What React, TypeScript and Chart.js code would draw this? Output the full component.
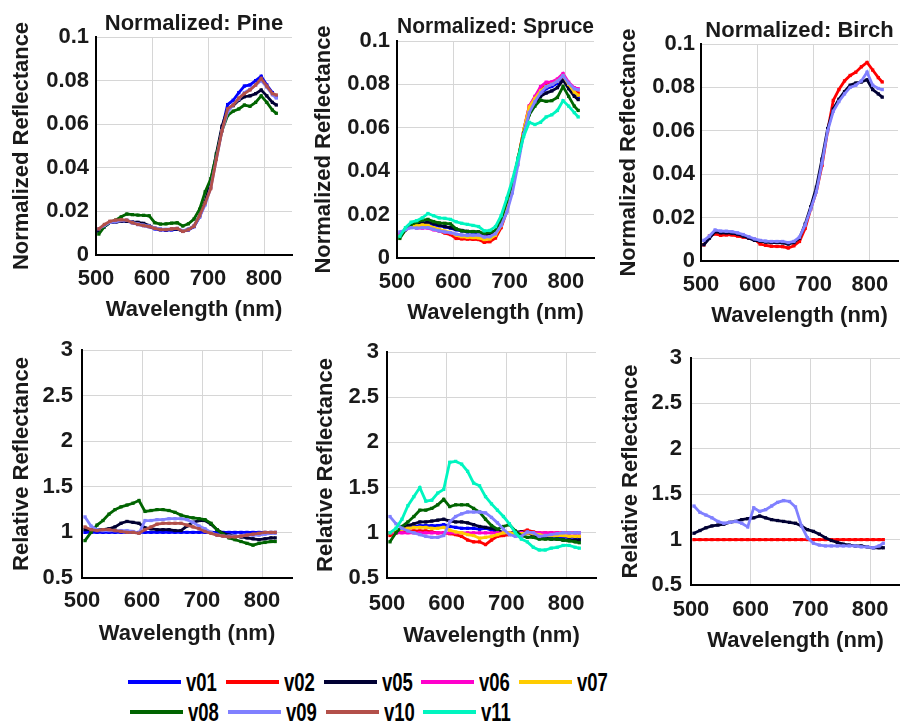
import React, { useEffect, useRef } from "react";
import { Chart, registerables } from "chart.js";
Chart.register(...registerables);

// ---------------- DATA ----------------
const wavelengths = [505, 515, 525, 535, 545, 555, 565, 575, 585, 595, 605, 615, 625, 635, 645, 655, 665, 675, 685, 695, 705, 715, 725, 735, 745, 755, 765, 775, 785, 795, 805, 815, 822];

const xTicks = [500, 600, 700, 800];
const normTicks = [0, 0.02, 0.04, 0.06, 0.08, 0.1];
const relTicks = [0.5, 1, 1.5, 2, 2.5, 3];

// Pine – normalized
const pineNormV01 = [0.011, 0.013, 0.015, 0.0152, 0.0155, 0.0155, 0.0148, 0.014, 0.0135, 0.013, 0.012, 0.0115, 0.0113, 0.0115, 0.0118, 0.011, 0.0115, 0.013, 0.0175, 0.024, 0.033, 0.045, 0.058, 0.069, 0.071, 0.0745, 0.0775, 0.078, 0.08, 0.082, 0.078, 0.0745, 0.0725];
const pineNormV05 = [0.011, 0.013, 0.015, 0.015, 0.0155, 0.0155, 0.0152, 0.015, 0.0145, 0.0135, 0.0123, 0.0118, 0.0116, 0.0118, 0.012, 0.011, 0.0118, 0.0132, 0.018, 0.0245, 0.034, 0.0465, 0.059, 0.067, 0.0685, 0.071, 0.0726, 0.073, 0.074, 0.0757, 0.073, 0.07, 0.0688];
const pineNormV08 = [0.0096, 0.013, 0.015, 0.016, 0.0175, 0.0188, 0.0185, 0.0183, 0.0182, 0.018, 0.0148, 0.0142, 0.0143, 0.0146, 0.0148, 0.0133, 0.0143, 0.0165, 0.021, 0.029, 0.035, 0.046, 0.057, 0.064, 0.066, 0.067, 0.0688, 0.0682, 0.07, 0.073, 0.07, 0.0665, 0.065];
const pineNormV09 = [0.012, 0.0135, 0.015, 0.0152, 0.0158, 0.016, 0.015, 0.0143, 0.0137, 0.0133, 0.0125, 0.012, 0.0118, 0.012, 0.0122, 0.0112, 0.0118, 0.0133, 0.0175, 0.023, 0.031, 0.044, 0.057, 0.0655, 0.069, 0.0715, 0.0745, 0.076, 0.078, 0.08, 0.077, 0.0735, 0.072];
const pineNormV10 = [0.012, 0.014, 0.0155, 0.016, 0.0162, 0.016, 0.0148, 0.014, 0.0135, 0.013, 0.0122, 0.0116, 0.0116, 0.012, 0.0122, 0.0108, 0.0116, 0.0132, 0.018, 0.024, 0.0305, 0.044, 0.057, 0.067, 0.0688, 0.072, 0.074, 0.0757, 0.078, 0.081, 0.0775, 0.074, 0.0734];

// Pine – relative
const pineRelV01 = [1, 1, 1, 1, 1, 1, 1, 1, 1, 1, 1, 1, 1, 1, 1, 1, 1, 1, 1, 1, 1, 1, 1, 1, 1, 1, 1, 1, 1, 1, 1, 1, 1];
const pineRelV05 = [1.03, 1.03, 1.03, 1.03, 1.04, 1.06, 1.1, 1.12, 1.11, 1.1, 1.05, 1.04, 1.03, 1.03, 1.03, 1.02, 1.02, 1.07, 1.11, 1.13, 1.13, 1.09, 1.03, 0.99, 0.97, 0.96, 0.95, 0.94, 0.93, 0.92, 0.93, 0.94, 0.94];
const pineRelV08 = [0.91, 1.0, 1.08, 1.13, 1.2, 1.25, 1.28, 1.3, 1.32, 1.35, 1.23, 1.24, 1.25, 1.25, 1.24, 1.22, 1.19, 1.17, 1.16, 1.15, 1.14, 1.1, 1.03, 0.98, 0.94, 0.92, 0.9, 0.88, 0.86, 0.88, 0.89, 0.9, 0.9];
const pineRelV09 = [1.17, 1.07, 1.03, 1.02, 1.02, 1.02, 1.02, 1.02, 1.01, 0.99, 1.13, 1.13, 1.14, 1.14, 1.15, 1.15, 1.15, 1.14, 1.11, 1.07, 1.04, 1.0, 0.97, 0.96, 0.96, 0.96, 0.96, 0.97, 0.97, 0.97, 0.98, 0.99, 0.99];
const pineRelV10 = [1.06, 1.03, 1.02, 1.03, 1.03, 1.02, 1.01, 1.0, 1.0, 0.99, 1.03, 1.06, 1.09, 1.1, 1.1, 1.1, 1.1, 1.08, 1.06, 1.04, 1.01, 0.99, 0.97, 0.96, 0.95, 0.95, 0.96, 0.97, 0.98, 0.99, 1.0, 1.0, 1.0];

// Spruce – normalized
const spruceNormV01 = [0.01, 0.013, 0.015, 0.015, 0.0155, 0.0155, 0.0152, 0.0148, 0.0143, 0.0138, 0.013, 0.0125, 0.012, 0.0118, 0.0115, 0.0105, 0.0108, 0.012, 0.0165, 0.0235, 0.033, 0.045, 0.058, 0.068, 0.072, 0.076, 0.078, 0.079, 0.0805, 0.083, 0.079, 0.0755, 0.074];
const spruceNormV02 = [0.01, 0.013, 0.0145, 0.0143, 0.0145, 0.0145, 0.0135, 0.0125, 0.0115, 0.0108, 0.009, 0.0088, 0.0087, 0.0086, 0.0085, 0.0072, 0.0075, 0.0092, 0.014, 0.0215, 0.032, 0.045, 0.059, 0.07, 0.074, 0.078, 0.08, 0.0805, 0.0815, 0.084, 0.08, 0.077, 0.076];
const spruceNormV05 = [0.01, 0.013, 0.015, 0.0155, 0.0162, 0.0165, 0.0158, 0.0152, 0.0145, 0.014, 0.0132, 0.0127, 0.0123, 0.0122, 0.012, 0.0107, 0.011, 0.0122, 0.0165, 0.0235, 0.033, 0.045, 0.058, 0.0675, 0.071, 0.0745, 0.076, 0.077, 0.0785, 0.082, 0.078, 0.0745, 0.073];
const spruceNormV06 = [0.011, 0.013, 0.0142, 0.0138, 0.0138, 0.0138, 0.013, 0.0125, 0.012, 0.0116, 0.0108, 0.0104, 0.0102, 0.0103, 0.0105, 0.0095, 0.0098, 0.0112, 0.0155, 0.0225, 0.032, 0.045, 0.059, 0.07, 0.0745, 0.079, 0.081, 0.0812, 0.0825, 0.085, 0.081, 0.0785, 0.078];
const spruceNormV07 = [0.01, 0.013, 0.0148, 0.0148, 0.0152, 0.015, 0.014, 0.0132, 0.0124, 0.0118, 0.0106, 0.0098, 0.0095, 0.0094, 0.0093, 0.0085, 0.0088, 0.0105, 0.015, 0.0225, 0.0325, 0.0455, 0.059, 0.0695, 0.0735, 0.077, 0.079, 0.08, 0.0815, 0.084, 0.08, 0.0765, 0.075];
const spruceNormV08 = [0.009, 0.013, 0.0155, 0.0165, 0.0175, 0.0178, 0.0168, 0.0162, 0.016, 0.0157, 0.0135, 0.0125, 0.0122, 0.0121, 0.012, 0.0114, 0.0118, 0.0125, 0.0175, 0.026, 0.034, 0.046, 0.0575, 0.066, 0.07, 0.0728, 0.0722, 0.0725, 0.074, 0.079, 0.0745, 0.07, 0.068];
const spruceNormV09 = [0.012, 0.013, 0.014, 0.0138, 0.014, 0.014, 0.0132, 0.0125, 0.012, 0.0117, 0.011, 0.0106, 0.0104, 0.0105, 0.0106, 0.0096, 0.0098, 0.0112, 0.015, 0.021, 0.03, 0.043, 0.057, 0.067, 0.072, 0.076, 0.079, 0.08, 0.0815, 0.084, 0.0805, 0.078, 0.0775];
const spruceNormV11 = [0.01, 0.014, 0.0165, 0.0172, 0.0185, 0.0205, 0.0195, 0.0185, 0.0183, 0.0178, 0.0167, 0.016, 0.0155, 0.015, 0.0145, 0.0125, 0.0127, 0.0145, 0.0195, 0.0275, 0.036, 0.046, 0.056, 0.0625, 0.0615, 0.0625, 0.065, 0.066, 0.068, 0.0725, 0.07, 0.067, 0.065];

// Spruce – relative
const spruceRelV01 = [1.0, 1.02, 1.04, 1.06, 1.07, 1.08, 1.08, 1.08, 1.08, 1.09, 1.07, 1.06, 1.05, 1.05, 1.05, 1.04, 1.05, 1.03, 1.0, 0.99, 0.99, 0.99, 0.99, 1.0, 0.98, 0.97, 0.96, 0.96, 0.96, 0.95, 0.95, 0.95, 0.95];
const spruceRelV02 = [0.97, 1.0, 1.02, 1.02, 1.02, 1.02, 1.02, 1.01, 1.0, 1.0, 0.99, 0.98, 0.96, 0.92, 0.9, 0.9, 0.87, 0.92, 0.96, 0.97, 0.98, 0.99, 1.01, 1.03, 1.01, 1.0, 1.0, 1.0, 1.0, 1.0, 1.0, 1.0, 1.0];
const spruceRelV05 = [1.0, 1.02, 1.05, 1.08, 1.1, 1.12, 1.12, 1.13, 1.14, 1.15, 1.13, 1.12, 1.12, 1.11, 1.09, 1.07, 1.06, 1.05, 1.03, 1.0, 1.0, 1.01, 1.01, 1.0, 0.97, 0.95, 0.94, 0.93, 0.93, 0.92, 0.92, 0.92, 0.92];
const spruceRelV06 = [1, 1, 1, 1, 1, 1, 1, 1, 1, 1, 1, 1, 1, 1, 1, 1, 1, 1, 1, 1, 1, 1, 1, 1, 1, 1, 1, 1, 1, 1, 1, 1, 1];
const spruceRelV07 = [1.0, 1.03, 1.04, 1.05, 1.06, 1.06, 1.06, 1.05, 1.05, 1.06, 1.03, 1.01, 1.0, 0.98, 0.97, 0.94, 0.95, 0.96, 0.98, 1.0, 1.0, 0.99, 0.99, 1.0, 0.99, 0.98, 0.97, 0.97, 0.97, 0.97, 0.96, 0.96, 0.96];
const spruceRelV08 = [0.9, 1.0, 1.07, 1.12, 1.18, 1.25, 1.25, 1.27, 1.31, 1.37, 1.29, 1.31, 1.31, 1.31, 1.27, 1.23, 1.15, 1.08, 1.04, 1.07, 1.09, 1.02, 0.97, 0.95, 0.95, 0.93, 0.93, 0.93, 0.93, 0.92, 0.91, 0.9, 0.89];
const spruceRelV09 = [1.18, 1.1, 1.05, 1.02, 1.0, 0.98, 0.96, 0.95, 0.95, 0.97, 1.12, 1.18, 1.21, 1.23, 1.23, 1.23, 1.22, 1.17, 1.11, 1.04, 0.98, 0.96, 0.96, 1.01, 1.0, 0.96, 0.97, 0.98, 0.99, 1.0, 1.0, 1.0, 1.0];
const spruceRelV11 = [1.0, 1.05, 1.15, 1.3, 1.4, 1.5, 1.35, 1.36, 1.44, 1.48, 1.78, 1.79, 1.76, 1.68, 1.55, 1.52, 1.4, 1.32, 1.25, 1.18, 1.1, 1.0, 0.93, 0.9, 0.84, 0.81, 0.81, 0.83, 0.84, 0.86, 0.86, 0.84, 0.83];

// Birch – normalized
const birchNormV02 = [0.0074, 0.0115, 0.0125, 0.0118, 0.012, 0.012, 0.0115, 0.011, 0.0105, 0.01, 0.0078, 0.0072, 0.0068, 0.0067, 0.0066, 0.006, 0.007, 0.009, 0.015, 0.024, 0.032, 0.044, 0.06, 0.074, 0.079, 0.083, 0.0855, 0.087, 0.0895, 0.0915, 0.088, 0.0845, 0.0825];
const birchNormV05 = [0.0075, 0.0105, 0.0135, 0.013, 0.013, 0.0128, 0.0124, 0.0115, 0.0105, 0.0095, 0.0092, 0.0087, 0.0085, 0.0085, 0.0084, 0.0078, 0.0085, 0.0105, 0.017, 0.025, 0.034, 0.047, 0.061, 0.07, 0.0745, 0.078, 0.081, 0.082, 0.0825, 0.0835, 0.079, 0.077, 0.0755];
const birchNormV09 = [0.0095, 0.0115, 0.0143, 0.0138, 0.0137, 0.0135, 0.013, 0.0122, 0.0112, 0.0102, 0.0095, 0.0092, 0.009, 0.009, 0.009, 0.0085, 0.009, 0.011, 0.0165, 0.024, 0.032, 0.045, 0.06, 0.069, 0.0735, 0.077, 0.08, 0.081, 0.083, 0.087, 0.081, 0.0795, 0.079];

// Birch – relative
const birchRelV02 = [1, 1, 1, 1, 1, 1, 1, 1, 1, 1, 1, 1, 1, 1, 1, 1, 1, 1, 1, 1, 1, 1, 1, 1, 1, 1, 1, 1, 1, 1, 1, 1, 1];
const birchRelV05 = [1.07, 1.1, 1.13, 1.15, 1.16, 1.17, 1.19, 1.2, 1.22, 1.23, 1.24, 1.26, 1.24, 1.22, 1.21, 1.2, 1.19, 1.18, 1.15, 1.11, 1.09, 1.06, 1.02, 0.99, 0.97, 0.95, 0.94, 0.93, 0.93, 0.92, 0.91, 0.91, 0.91];
const birchRelV09 = [1.37, 1.3, 1.27, 1.24, 1.2, 1.18, 1.19, 1.2, 1.18, 1.14, 1.35, 1.31, 1.33, 1.37, 1.41, 1.43, 1.42, 1.36, 1.15, 1.02, 0.96, 0.94, 0.93, 0.93, 0.93, 0.93, 0.93, 0.93, 0.92, 0.92, 0.91, 0.93, 0.96];

const legendRow1 = ["v01", "v02", "v05", "v06", "v07"];
const legendRow2 = ["v08", "v09", "v10", "v11"];

// ---------------- STYLE ----------------
const COLORS: Record<string, string> = {
  v01: "#0000ff",
  v02: "#ff0000",
  v05: "#000033",
  v06: "#ff00cc",
  v07: "#ffcc00",
  v08: "#006400",
  v09: "#8080ff",
  v10: "#b3504a",
  v11: "#00f5c0",
};

const FONT_FAMILY = '"Liberation Sans", Arial, Helvetica, sans-serif';
const FS = 22;
const LH = FS * 1.2;
const TITLE_LH = FS; // title font lineHeight 1.0
const TEXT = "#1a1a1a";

type Series = { label: string; values: number[] };

type PanelSpec = {
  title?: string;
  yTitle: string;
  yMin: number;
  yMax: number;
  yTicks: number[];
  series: Series[];
  L: number; T: number; R: number; B: number;
  yTitleX: number; xTitleY: number; titleY?: number;
  xTickPad: number; yTickPad: number;
};

const panels: PanelSpec[] = [
  {
    title: "Normalized: Pine", yTitle: "Normalized Reflectance", yMin: 0, yMax: 0.1, yTicks: normTicks,
    series: [
      { label: "v01", values: pineNormV01 }, { label: "v05", values: pineNormV05 },
      { label: "v08", values: pineNormV08 }, { label: "v09", values: pineNormV09 },
      { label: "v10", values: pineNormV10 },
    ],
    L: 96, T: 37, R: 296, B: 255, yTitleX: 22, xTitleY: 310, titleY: 24, xTickPad: 11, yTickPad: 7,
  },
  {
    title: "Normalized: Spruce", yTitle: "Normalized Reflectance", yMin: 0, yMax: 0.1, yTicks: normTicks,
    series: [
      { label: "v01", values: spruceNormV01 }, { label: "v02", values: spruceNormV02 },
      { label: "v05", values: spruceNormV05 }, { label: "v06", values: spruceNormV06 },
      { label: "v07", values: spruceNormV07 }, { label: "v08", values: spruceNormV08 },
      { label: "v09", values: spruceNormV09 }, { label: "v11", values: spruceNormV11 },
    ],
    L: 397, T: 41, R: 598, B: 258, yTitleX: 324, xTitleY: 313, titleY: 27, xTickPad: 11, yTickPad: 7,
  },
  {
    title: "Normalized: Birch", yTitle: "Normalized Reflectance", yMin: 0, yMax: 0.1, yTicks: normTicks,
    series: [
      { label: "v02", values: birchNormV02 }, { label: "v05", values: birchNormV05 },
      { label: "v09", values: birchNormV09 },
    ],
    L: 701, T: 44, R: 902, B: 261, yTitleX: 629, xTitleY: 316, titleY: 31, xTickPad: 11, yTickPad: 6,
  },
  {
    yTitle: "Relative Reflectance", yMin: 0.5, yMax: 3, yTicks: relTicks,
    series: [
      { label: "v01", values: pineRelV01 }, { label: "v05", values: pineRelV05 },
      { label: "v08", values: pineRelV08 }, { label: "v09", values: pineRelV09 },
      { label: "v10", values: pineRelV10 },
    ],
    L: 82, T: 350, R: 296, B: 578, yTitleX: 22, xTitleY: 634, xTickPad: 10, yTickPad: 9,
  },
  {
    yTitle: "Relative Reflectance", yMin: 0.5, yMax: 3, yTicks: relTicks,
    series: [
      { label: "v01", values: spruceRelV01 }, { label: "v02", values: spruceRelV02 },
      { label: "v05", values: spruceRelV05 }, { label: "v06", values: spruceRelV06 },
      { label: "v07", values: spruceRelV07 }, { label: "v08", values: spruceRelV08 },
      { label: "v09", values: spruceRelV09 }, { label: "v11", values: spruceRelV11 },
    ],
    L: 387, T: 352, R: 600, B: 578, yTitleX: 326, xTitleY: 636, xTickPad: 13, yTickPad: 8,
  },
  {
    yTitle: "Relative Reflectance", yMin: 0.5, yMax: 3, yTicks: relTicks,
    series: [
      { label: "v02", values: birchRelV02 }, { label: "v05", values: birchRelV05 },
      { label: "v09", values: birchRelV09 },
    ],
    L: 691, T: 358, R: 904, B: 585, yTitleX: 631, xTitleY: 641, xTickPad: 12, yTickPad: 9,
  },
];

function Panel({ spec }: { spec: PanelSpec }) {
  const ref = useRef<HTMLCanvasElement | null>(null);
  const cx = Math.round(spec.yTitleX - LH / 2 - 2);
  const cy = spec.title ? Math.round((spec.titleY as number) - TITLE_LH / 2) : spec.T - 28;
  const bottom = Math.round(spec.xTitleY + LH / 2 + 2);
  const cw = spec.R - cx;
  const ch = bottom - cy;
  const yw = spec.L - cx;
  const xh = bottom - spec.B;
  const titlePadBottom = spec.title ? Math.max(spec.T - cy - TITLE_LH, 0) : 0;

  useEffect(() => {
    if (!ref.current) return;
    const font = { family: FONT_FAMILY, size: FS, weight: "bold" as const, lineHeight: 1.2 };
    const titleFont = { family: FONT_FAMILY, size: FS, weight: "bold" as const, lineHeight: 1.0 };
    const n = spec.series.length;
    const chart = new Chart(ref.current, {
      type: "line",
      data: {
        datasets: spec.series.map((s, i) => ({
          label: s.label,
          data: wavelengths.map((w, j) => ({ x: w, y: s.values[j] })),
          borderColor: COLORS[s.label],
          backgroundColor: COLORS[s.label],
          pointBackgroundColor: COLORS[s.label],
          pointBorderColor: COLORS[s.label],
          borderWidth: 2.8,
          pointStyle: "rect",
          pointRadius: 2.3,
          pointBorderWidth: 0,
          tension: 0,
          fill: false,
          order: n - i,
        })),
      },
      options: {
        responsive: false,
        animation: false,
        devicePixelRatio: 1,
        events: [],
        layout: { padding: { left: 0, right: 0, top: spec.title ? 0 : 28, bottom: 0 } },
        plugins: {
          legend: { display: false },
          tooltip: { enabled: false },
          title: spec.title
            ? {
                display: true, fullSize: false, text: spec.title, font: titleFont, color: TEXT,
                padding: { top: 0, bottom: titlePadBottom },
              }
            : { display: false },
        },
        scales: {
          x: {
            type: "linear",
            min: 500,
            max: 850,
            afterFit: (s: any) => { s.height = xh; },
            afterBuildTicks: (s: any) => { s.ticks = xTicks.map((v) => ({ value: v })); },
            ticks: {
              font, color: TEXT, padding: spec.xTickPad, maxRotation: 0, autoSkip: false,
              callback: (v: any) => String(v),
            },
            grid: { color: "#d6d6d6", lineWidth: 1, drawTicks: false },
            border: { display: true, color: "#000000", width: 2 },
            title: { display: true, text: "Wavelength (nm)", font, color: TEXT, padding: { top: 0, bottom: 2 } },
          },
          y: {
            type: "linear",
            min: spec.yMin,
            max: spec.yMax,
            afterFit: (s: any) => { s.width = yw; },
            afterBuildTicks: (s: any) => { s.ticks = spec.yTicks.map((v) => ({ value: v })); },
            ticks: {
              font, color: TEXT, padding: spec.yTickPad, autoSkip: false,
              callback: (v: any) => String(Math.round(Number(v) * 1000) / 1000),
            },
            grid: { color: "#d6d6d6", lineWidth: 1, drawTicks: false },
            border: { display: true, color: "#000000", width: 2 },
            title: { display: true, text: spec.yTitle, font, color: TEXT, padding: { top: 2, bottom: 0 } },
          },
        },
      },
    } as any);
    return () => chart.destroy();
  }, []);

  return (
    <canvas
      ref={ref}
      width={cw}
      height={ch}
      style={{ position: "absolute", left: cx, top: cy, width: cw, height: ch }}
    />
  );
}

function LegendItem({ label, x, y }: { label: string; x: number; y: number }) {
  return (
    <div style={{ position: "absolute", left: x, top: y - 15, height: 30, width: 95 }}>
      <div
        style={{
          position: "absolute", left: 0, top: 13, width: 53, height: 4,
          background: COLORS[label],
        }}
      />
      <div
        style={{
          position: "absolute", left: 58, top: 0, height: 30, lineHeight: "30px",
          fontFamily: FONT_FAMILY, fontWeight: "bold", fontSize: 25, color: "#000",
          transform: "scaleX(0.74)", transformOrigin: "left center", whiteSpace: "nowrap",
        }}
      >
        {label}
      </div>
    </div>
  );
}

export default function App() {
  return (
    <div
      style={{
        position: "absolute", left: 0, top: 0, width: 900, height: 722,
        overflow: "hidden", background: "#ffffff",
      }}
    >
      {panels.map((p, i) => (
        <Panel key={i} spec={p} />
      ))}
      {legendRow1.map((l, i) => (
        <LegendItem key={l} label={l} x={128 + i * 97.8} y={682} />
      ))}
      {legendRow2.map((l, i) => (
        <LegendItem key={l} label={l} x={130 + i * 97.8} y={712} />
      ))}
    </div>
  );
}
